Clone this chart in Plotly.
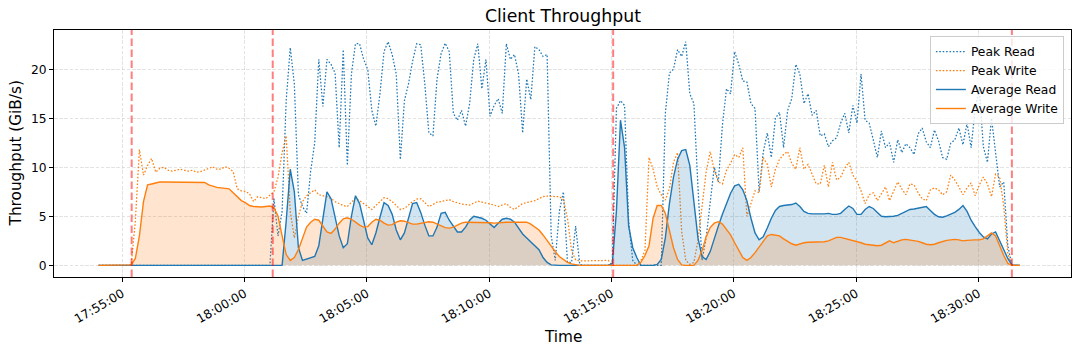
import pandas as pd
import plotly.graph_objects as go

# ---- data: 10-second samples starting 17:54:02 (one row = one minute) ----
sample_start = "2024-01-01 17:54:02"
sample_step = "10s"

peak_read = [
    0, 0, 0, 0, 0, 0,              # 17:54
    0, 0, 0, 0, 0, 0,              # 17:55
    0, 0, 0, 0, 0, 0,              # 17:56
    0, 0, 0, 0, 0, 0,              # 17:57
    0, 0, 0, 0, 0, 0,              # 17:58
    0, 0, 0, 0, 0, 0,              # 17:59
    0, 0, 0, 0, 0, 0,              # 18:00
    0, 6.8, 3.0, 5.5, 16.8, 22.2,  # 18:01
    18.5, 7.2, 6.0, 5.3, 9.6, 12.5,
    21.0, 16.2, 21.0, 20.5, 19.6, 12.0,
    22.0, 10.2, 19.5, 22.6, 22.6, 21.0,
    20.0, 15.8, 14.2, 17.5, 21.8, 22.8,  # 18:05
    21.5, 19.5, 10.8, 16.8, 18.5, 20.8,
    22.6, 22.5, 18.5, 13.5, 13.2, 19.0,
    21.6, 22.65, 21.8, 15.5, 14.8, 15.8,
    14.2, 16.5, 21.0, 22.6, 18.0, 21.0,
    15.2, 16.3, 17.0, 15.5, 22.6, 21.0,  # 18:10
    21.5, 19.5, 13.5, 19.0, 16.9, 22.3,
    22.0, 21.3, 21.5, 3.0, 0.5, 5.5,
    7.5, 0.3, 0.3, 4.0, 0.1, 0,
    0, 0, 0, 0, 0, 0,
    0.2, 16.0, 16.8, 16.3, 4.5, 0.5,   # 18:15
    0, 0, 0, 0, 0, 0,
    0, 15.5, 19.6, 20.0, 22.0, 21.3,
    22.8, 17.5, 16.5, 8.0, 0.5, 2.8,
    6.2, 10.0, 8.5, 14.3, 18.0, 17.5,
    21.8, 20.5, 18.8, 18.7, 16.5, 16.0,  # 18:20
    7.5, 11.5, 13.5, 11.0, 15.0, 15.6,
    12.0, 15.8, 17.0, 20.5, 19.5, 16.5,
    17.5, 15.3, 15.8, 13.2, 13.4, 12.1,
    12.7, 13.0, 14.5, 15.5, 13.5, 16.3,
    14.5, 19.5, 14.8, 14.5, 12.8, 11.0,  # 18:25
    13.7, 12.0, 12.5, 10.5, 12.8, 11.5,
    12.4, 12.0, 11.3, 13.4, 14.0, 12.6,
    12.0, 13.8, 12.7, 11.0, 10.8, 12.45,
    12.8, 14.0, 12.3, 14.5, 12.0, 16.0,
    18.0, 12.1, 10.5, 15.0, 11.5, 8.0,   # 18:30
    8.5, 2.0, 0, 0, 0,
]

peak_write = [
    0, 0, 0, 0, 0, 0,                  # 17:54
    0, 0, 0.1, 4.5, 11.8, 9.2,         # 17:55
    10.2, 10.9, 9.5, 9.9, 10.0, 9.7,
    9.6, 9.7, 9.8, 9.7, 9.6, 9.7,
    9.5, 9.55, 9.7, 9.9, 10.05, 9.8,
    9.8, 10.05, 9.9, 9.55, 7.8, 7.6,
    7.55, 7.3, 6.5, 7.0, 6.9, 6.8,      # 18:00
    7.15, 7.5, 9.0, 11.5, 13.2, 5.5,
    2.8, 5.0, 6.5, 7.1, 7.4, 7.7,
    7.2, 7.1, 7.0, 6.8, 6.5, 6.3,
    6.1, 6.0, 6.4, 6.85, 6.6, 6.3,
    6.0, 5.7, 6.1, 6.5, 6.9, 6.8,       # 18:05
    6.5, 6.1, 5.7, 5.8, 6.2, 6.5,
    6.75, 6.8, 6.4, 6.0, 6.2, 6.45,
    6.5, 6.6, 6.7, 6.5, 6.35, 6.25,
    6.2, 6.15, 6.35, 6.55, 6.45, 6.35,
    6.3, 6.15, 6.0, 6.15, 6.3, 5.9,     # 18:10
    5.7, 6.0, 6.3, 6.4, 6.5, 6.6,
    6.8, 7.0, 7.05, 7.05, 7.05, 7.0,
    6.7, 4.8, 1.5, 0.55, 0.45, 0.45,
    0.45, 0.45, 0.5, 0.5, 0.5, 0.5,
    0, 0, 0, 0, 0, 0,                   # 18:15
    0, 0.5, 1.5, 11.0, 9.8, 8.0,
    7.2, 6.65, 7.8, 10.5, 11.5, 3.5,
    0.5, 0.1, 0.3, 2.5, 6.0, 9.5,
    11.6, 9.7, 8.5, 8.3, 9.7, 10.4,
    11.3, 11.0, 12.0, 5.0, 6.3, 7.6,    # 18:20
    7.4, 11.0, 10.3, 8.0, 9.8, 10.8,
    11.3, 11.6, 10.4, 9.8, 12.0, 9.8,
    10.3, 9.2, 8.3, 8.3, 10.2, 8.0,
    10.5, 8.7, 9.0, 9.9, 10.5, 9.2,
    8.6, 7.6, 6.3, 7.2, 7.4, 6.6,       # 18:25
    7.3, 8.0, 6.6, 7.6, 8.5, 7.8,
    7.2, 8.3, 8.2, 7.4, 6.8, 6.6,
    7.7, 7.9, 7.7, 7.2, 7.5, 9.2,
    8.7, 8.0, 7.2, 7.9, 8.4, 7.1,
    8.2, 9.0, 8.3, 7.0, 9.3, 9.0,       # 18:30
    6.0, 1.2, 0, 0, 0,
]

avg_read = [
    0, 0, 0, 0, 0, 0,                   # 17:54
    0, 0, 0, 0, 0, 0,
    0, 0, 0, 0, 0, 0,
    0, 0, 0, 0, 0, 0,
    0, 0, 0, 0, 0, 0,
    0, 0, 0, 0, 0, 0,
    0, 0, 0, 0, 0, 0,                   # 18:00
    0, 0, 0, 0, 4.5, 9.8,
    7.5, 1.8, 0.5, 0.65, 0.8, 0.9,
    2.0, 5.0, 7.5, 6.8, 5.0, 3.0,
    1.8, 2.2, 5.0, 7.1, 6.3, 4.5,
    2.8, 2.1, 3.3, 4.9, 6.4, 6.1,       # 18:05
    5.2, 3.6, 2.6, 3.3, 4.9, 6.3,
    6.4, 5.4, 4.1, 3.0, 3.0, 3.9,
    5.3, 5.4, 4.6, 4.0, 3.4, 3.4,
    3.9, 4.6, 5.0, 4.9, 4.8, 4.6,
    4.2, 3.85, 4.3, 4.7, 4.8, 4.7,      # 18:10
    4.4, 3.8, 3.2, 2.8, 2.4, 2.1,
    1.6, 0.8, 0.3, 0.05, 0, 0,
    0, 0, 0, 0, 0, 0,
    0, 0, 0, 0, 0, 0,
    0.2, 5.5, 14.8, 12.0, 4.0, 1.8,     # 18:15
    0.8, 0, 0, 0, 0, 0.1,
    0.6, 2.8, 6.3, 9.0, 10.8, 11.7,
    11.8, 10.2, 6.5, 2.8, 0.9, 0.6,
    1.4, 2.8, 4.0, 5.2, 6.3, 7.35,
    8.1, 8.25, 7.7, 6.6, 4.8, 3.3,      # 18:20
    2.6, 2.9, 3.8, 4.8, 5.6, 6.0,
    6.1, 6.15, 6.2, 6.35, 6.0, 5.5,
    5.3, 5.25, 5.25, 5.2, 5.25, 5.3,
    5.2, 5.2, 5.3, 5.7, 6.05, 5.8,
    5.2, 5.2, 5.7, 6.0, 5.8, 5.4,       # 18:25
    5.0, 4.95, 4.95, 5.0, 5.1, 5.3,
    5.55, 5.7, 5.75, 5.85, 5.95, 6.0,
    5.6, 5.2, 4.95, 4.9, 5.05, 5.2,
    5.4, 5.7, 6.1, 5.5, 4.6, 3.95,
    3.35, 2.9, 2.7, 3.2, 3.4, 2.5,      # 18:30
    1.6, 0.7, 0.05, 0, 0,
]

avg_write = [
    0, 0, 0, 0, 0, 0,                   # 17:54
    0, 0, 0.05, 0.7, 3.0, 6.5,
    8.2, 8.3, 8.4, 8.5, 8.5, 8.5,
    8.5, 8.5, 8.5, 8.45, 8.45, 8.45,
    8.45, 8.45, 8.45, 8.2, 8.05, 7.95,
    7.9, 7.85, 7.8, 7.4, 7.0, 6.6,
    6.4, 6.1, 6.0, 5.95, 5.95, 6.0,     # 18:00
    6.05, 5.9, 5.0, 3.0, 1.1, 0.5,
    0.8, 1.6, 2.8, 3.9, 4.4, 4.7,
    4.6, 4.0, 3.4, 3.25, 3.7, 4.3,
    4.75, 4.85, 4.7, 4.4, 4.1, 3.9,
    3.95, 4.4, 4.7, 4.6, 4.3, 4.1,      # 18:05
    4.15, 4.4, 4.55, 4.5, 4.35, 4.2,
    4.2, 4.3, 4.4, 4.45, 4.4, 4.2,
    4.0, 3.85, 3.8, 3.9, 4.1, 4.3,
    4.4, 4.4, 4.4, 4.4, 4.4, 4.35,
    4.35, 4.3, 4.35, 4.4, 4.4, 4.4,     # 18:10
    4.4, 4.45, 4.45, 4.4, 4.2, 3.9,
    3.6, 3.1, 2.5, 1.9, 1.4, 0.9,
    0.55, 0.3, 0.15, 0.05, 0, 0,
    0, 0, 0, 0, 0, 0,
    0, 0, 0, 0, 0, 0,                   # 18:15
    0, 0.3, 1.0, 2.0, 4.8, 6.1,
    6.1, 5.3, 3.7, 1.8, 0.6, 0.05,
    0, 0, 0, 0.5, 1.5, 2.9,
    3.85, 4.3, 4.45, 4.2, 3.7, 3.1,
    2.3, 1.5, 0.8, 0.5, 0.8, 1.3,       # 18:20
    1.9, 2.5, 3.0, 3.15, 3.1, 3.0,
    2.7, 2.45, 2.2, 2.05, 2.2, 2.3,
    2.35, 2.35, 2.4, 2.4, 2.4, 2.5,
    2.7, 2.85, 2.85, 2.75, 2.6, 2.55,
    2.45, 2.3, 2.15, 2.1, 2.05, 2.0,    # 18:25
    2.05, 2.3, 2.5, 2.3, 2.45, 2.6,
    2.65, 2.6, 2.55, 2.45, 2.3, 2.15,
    2.1, 2.15, 2.3, 2.45, 2.55, 2.6,
    2.65, 2.6, 2.5, 2.55, 2.6, 2.6,
    2.6, 2.7, 3.0, 3.3, 3.0, 2.0,       # 18:30
    1.0, 0.2, 0, 0, 0,
]

event_times = ["2024-01-01 17:55:23", "2024-01-01 18:01:09",
               "2024-01-01 18:15:04", "2024-01-01 18:31:22"]
x_range = ["2024-01-01 17:52:12.5", "2024-01-01 18:33:47"]
x_tick0 = "2024-01-01 17:55:00"
y_ticks = [0, 5, 10, 15, 20]

title_text = "Client Throughput"
x_label = "Time"
y_label = "Throughput (GiB/s)"

times = pd.date_range(sample_start, periods=len(avg_write), freq=sample_step)

BLUE = "#1f77b4"
ORANGE = "#ff7f0e"
FONT = "DejaVu Sans"
DOT = "1.6px,1.8px"

fig = go.Figure()
fig.add_trace(go.Scatter(x=times, y=peak_read, name="Peak Read", mode="lines",
                         line=dict(color=BLUE, width=1.25, dash=DOT)))
fig.add_trace(go.Scatter(x=times, y=peak_write, name="Peak Write", mode="lines",
                         line=dict(color=ORANGE, width=1.25, dash=DOT)))
# shaded areas (no legend entries)
fig.add_trace(go.Scatter(x=times, y=avg_read, mode="lines", showlegend=False,
                         line=dict(width=0, color=BLUE), hoverinfo="skip",
                         fill="tozeroy", fillcolor="rgba(31,119,180,0.2)"))
fig.add_trace(go.Scatter(x=times, y=avg_write, mode="lines", showlegend=False,
                         line=dict(width=0, color=ORANGE), hoverinfo="skip",
                         fill="tozeroy", fillcolor="rgba(255,127,14,0.2)"))
# average lines
fig.add_trace(go.Scatter(x=times, y=avg_read, name="Average Read", mode="lines",
                         line=dict(color=BLUE, width=1.4)))
fig.add_trace(go.Scatter(x=times, y=avg_write, name="Average Write", mode="lines",
                         line=dict(color=ORANGE, width=1.4)))

shapes = []
for t in event_times:
    shapes.append(dict(type="line", xref="x", yref="paper", x0=t, x1=t, y0=0, y1=1,
                       line=dict(color="rgba(255,0,0,0.5)", width=2, dash="7.5px,3.5px")))

axis_common = dict(showline=True, linecolor="black", linewidth=1, mirror=True,
                   ticks="outside", ticklen=4, tickwidth=1, tickcolor="black",
                   showgrid=True, gridcolor="rgba(176,176,176,0.35)", griddash="3.6px,1.6px",
                   gridwidth=1, zeroline=False,
                   tickfont=dict(family=FONT, size=12.3, color="black"))

fig.update_layout(
    width=1080, height=354,
    margin=dict(l=54, r=9, t=30, b=77),
    paper_bgcolor="white", plot_bgcolor="white",
    font=dict(family=FONT, color="black"),
    showlegend=True,
    legend=dict(x=0.993, y=0.9757, xanchor="right", yanchor="top",
                bgcolor="rgba(255,255,255,0.8)", bordercolor="#cccccc", borderwidth=1,
                font=dict(family=FONT, size=12.3, color="black"),
                tracegroupgap=0, itemwidth=30),
    xaxis=dict(range=x_range, type="date", tick0=x_tick0, dtick=300000,
               tickformat="%H:%M:%S", tickangle=-30, **axis_common),
    yaxis=dict(range=[-1.19, 24.0], tickvals=y_ticks, **axis_common),
    shapes=shapes,
    annotations=[
        dict(text=title_text, xref="paper", yref="paper", x=0.5, y=1.0, yshift=14,
             xanchor="center", yanchor="middle", showarrow=False,
             font=dict(family=FONT, size=17.3, color="black")),
        dict(text=x_label, xref="paper", yref="paper", x=0.5, y=-0.243,
             xanchor="center", yanchor="middle", showarrow=False,
             font=dict(family=FONT, size=15.3, color="black")),
        dict(text=y_label, xref="paper", yref="paper", x=-0.0374, y=0.5, textangle=-90,
             xanchor="center", yanchor="middle", showarrow=False,
             font=dict(family=FONT, size=15.3, color="black")),
    ],
)

fig.write_html("out.html")
